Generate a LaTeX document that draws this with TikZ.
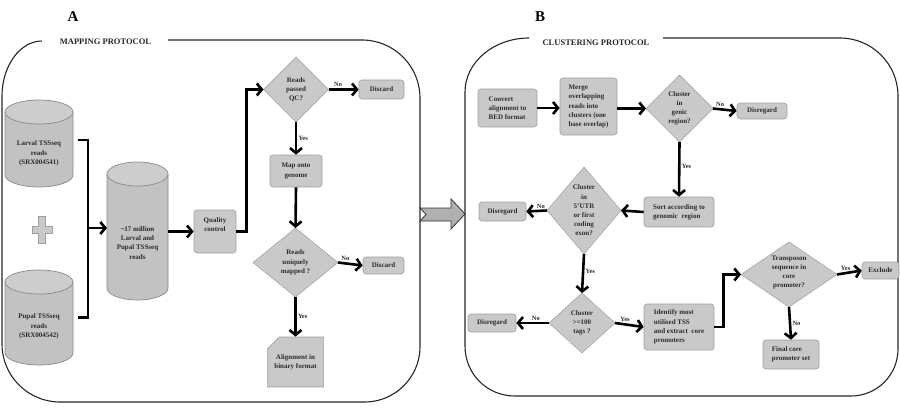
\documentclass[tikz,border=0pt]{standalone}
\usepackage{fontspec}
\setmainfont{Liberation Serif}
\usetikzlibrary{arrows.meta,shapes.geometric,shapes.misc}
\definecolor{boxfill}{HTML}{C9C9C9}
\definecolor{boxline}{HTML}{A0A0A0}
\definecolor{txtc}{HTML}{2B2B2B}
\definecolor{cylfill}{HTML}{C2C2C2}
\definecolor{cyltopc}{HTML}{CDCDCD}
\definecolor{cylline}{HTML}{8A8A8A}
\definecolor{bigarr}{HTML}{B0B0B0}
\newcommand\mycyl[5]{%
  \draw[draw=cylline, fill=cylfill, line width=0.7pt] (#1-#4,#2) -- (#1-#4,#3)
    arc[start angle=180,end angle=360,x radius=#4pt,y radius=#5pt] -- (#1+#4,#2) -- cycle;
  \draw[draw=cylline, fill=cyltopc, line width=0.7pt] (#1,#2) ellipse[x radius=#4pt, y radius=#5pt];}
\begin{document}
\begin{tikzpicture}[x=1pt,y=-1pt,
  txt/.style={font=\bfseries\fontsize{7}{9.2}\selectfont, text=txtc, align=center, inner sep=0pt},
  box/.style={draw=boxline, fill=boxfill, rounded corners=3pt, line width=0.6pt, inner sep=1pt,
    font=\bfseries\fontsize{7}{9.2}\selectfont, text=txtc},
  doc/.style={chamfered rectangle, chamfered rectangle corners=north west, chamfered rectangle xsep=6pt,
    chamfered rectangle ysep=6pt, draw=boxline, fill=boxfill, line width=0.6pt, inner sep=1pt,
    font=\bfseries\fontsize{7}{9.2}\selectfont, text=txtc},
  dia/.style={diamond, draw=boxline, fill=boxfill, line width=0.5pt, inner sep=0pt, outer sep=0pt},
  cylnode/.style={inner sep=0pt, outer sep=0pt},
  arr/.style={line width=2.6pt, line join=miter, -{Straight Barb[length=5pt,width=12pt]}},
  conn/.style={line width=2.6pt, line join=miter},
  lbl/.style={font=\bfseries\fontsize{6.5}{7}\selectfont, text=txtc, inner sep=1.2pt},
  ttl/.style={font=\bfseries\fontsize{8.5}{9}\selectfont, text=black!85, inner sep=0pt},
  big/.style={font=\bfseries\fontsize{15}{15}\selectfont, inner sep=0pt},
  frame/.style={line width=1.1pt, draw=black!85},
]
\useasboundingbox (0,0) rectangle (900,420);

% ---------------- Panel A frame ----------------
\node[big] (A) at (73,17) {A};
\node[ttl] (tA) at (105.5,42) {MAPPING PROTOCOL};
\draw[frame] (42,41) .. controls (20,41) and (2,66) .. (2,96) -- (2,344)
  .. controls (2,376) and (28,402) .. (60,402) -- (365,402)
  .. controls (395,402) and (420,377) .. (420,347) -- (420,98)
  .. controls (420,66) and (394,40) .. (362,40) -- (168,40);

% ---------------- Panel B frame ----------------
\node[big] (B) at (540,17) {B};
\node[ttl] (tB) at (596,43) {CLUSTERING PROTOCOL};
\draw[frame] (529,38) .. controls (494,38) and (465,62) .. (465,92) -- (465,346)
  .. controls (465,374) and (487,396) .. (515,396) -- (851,396)
  .. controls (877,396) and (898,375) .. (898,349) -- (898,96)
  .. controls (898,64) and (872,38) .. (840,38) -- (663,38);

% big arrow between panels
\draw[fill=bigarr, draw=black!80, line width=0.8pt, line join=miter]
  (420,208) -- (451,208) -- (451,199) -- (465,214) -- (451,229) -- (451,221)
  -- (420,221) -- (426,214.5) -- cycle;

% ---------------- Cylinders ----------------
\mycyl{39}{112}{175}{34}{12}
\node[cylnode, minimum width=68pt, minimum height=87pt,
  label={[txt,yshift=-10pt]center:{Larval TSSseq\\reads\\(SRX004541)}}] (cyl1) at (39,143.5) {};
\mycyl{39}{282}{353}{34}{12}
\node[cylnode, minimum width=68pt, minimum height=95pt,
  label={[txt,yshift=-9pt]center:{Pupal TSSseq\\reads\\(SRX004542)}}] (cyl2) at (39,317.5) {};
\mycyl{137.5}{174}{288}{30.5}{12}
\node[cylnode, minimum width=61pt, minimum height=138pt,
  label={[txt,yshift=-12pt]center:{\textasciitilde17 million\\Larval and\\Pupal TSSseq\\reads}}] (cyl3) at (137.5,231) {};

% plus sign
\draw[fill=boxfill, draw=boxline, line width=0.6pt]
  (38.5,216) -- (45.5,216) -- (45.5,226) -- (52,226) -- (52,233) -- (45.5,233) -- (45.5,243)
  -- (38.5,243) -- (38.5,233) -- (32,233) -- (32,226) -- (38.5,226) -- cycle;

% ---------------- Panel A nodes ----------------
\node[box, minimum width=42pt, minimum height=43pt,
  label={[txt,yshift=7pt]center:{Quality\\control}}] (qc) at (215,231.5) {};
\node[dia, minimum width=65pt, minimum height=65pt,
  label={[txt]center:{Reads\\passed\\QC?}}] (d1) at (296,89.5) {};
\node[box, minimum width=45pt, minimum height=19pt] (disc1) at (381.5,89.5) {Discard};
\node[box, minimum width=52pt, minimum height=32pt, align=center] (map) at (296,171) {Map onto\\genome};
\node[dia, minimum width=85pt, minimum height=69pt,
  label={[txt]center:{Reads\\uniquely\\mapped ?}}] (d2) at (295.5,262.5) {};
\node[box, minimum width=41pt, minimum height=17pt] (disc2) at (383.5,265.5) {Discard};
\node[doc, minimum width=55pt, minimum height=50pt, align=center] (aln) at (295.5,362) {Alignment in\\binary format};

% connectors A
\coordinate (brk) at (88,228);
\draw[conn] ([xshift=5pt]cyl1.east |- 0,140) -| (brk) |- ([xshift=5pt]cyl2.east);
\draw[arr] (brk) -- (cyl3.west |- brk);
\draw[arr] (cyl3.east |- qc.west) -- (qc.west);
\draw[arr] (qc.east) -- ++(10,0) |- (d1.west);
\draw[arr] (d1.east) -- node[lbl, above, pos=0.32] {No} (disc1.west);
\draw[arr] (d1.south) -- node[lbl, right, pos=0.5] {Yes} (map.north);
\draw[arr] (map.south) -- (d2.north);
\draw[arr] (d2.east) -- node[lbl, above, pos=0.3] {No} (disc2.west);
\draw[arr] (d2.south) -- node[lbl, right, pos=0.5] {Yes} (aln.north);

% ---------------- Panel B nodes ----------------
\node[box, minimum width=59pt, minimum height=38pt, align=left] (conv) at (507.5,108) {Convert\\alignment to\\BED format};
\node[box, minimum width=57pt, minimum height=57pt, align=left] (merge) at (588.5,106.5) {Merge\\overlapping\\reads into\\clusters (one\\base overlap)};
\node[dia, minimum width=67pt, minimum height=67pt,
  label={[txt]center:{Cluster\\in\\genic\\region?}}] (d3) at (679.5,108.5) {};
\node[box, minimum width=50pt, minimum height=16pt] (dis1) at (762,111) {Disregard};
\node[box, minimum width=70pt, minimum height=30pt, align=left] (sort) at (679,212) {Sort according to\\genomic\ \ region};
\node[dia, minimum width=74pt, minimum height=87pt,
  label={[txt]center:{Cluster\\in\\5'UTR\\or first\\coding\\exon?}}] (d4) at (584,210.5) {};
\node[box, minimum width=47pt, minimum height=19pt] (dis2) at (502.5,211.5) {Disregard};
\node[dia, minimum width=66pt, minimum height=60pt,
  label={[txt]center:{Cluster\\>=100\\tags ?}}] (d5) at (582,323) {};
\node[box, minimum width=48pt, minimum height=18pt] (dis3) at (492,323) {Disregard};
\node[box, minimum width=70pt, minimum height=46pt, align=left] (ident) at (679,327) {Identify most\\utilised TSS\\and extract\ \ core\\promoters};
\node[dia, minimum width=96pt, minimum height=65pt,
  label={[txt,yshift=2pt]center:{Transposon\\sequence in\\core\\promoter?}}] (d6) at (789,274.5) {};
\node[box, minimum width=37pt, minimum height=17pt] (excl) at (880.5,270.5) {Exclude};
\node[box, minimum width=56pt, minimum height=29pt, align=left] (final) at (791,354.5) {Final core\\promoter set};

% connectors B
\draw[arr] (conv.east) -- (merge.west |- conv.east);
\draw[arr] (merge.east |- d3.west) -- (d3.west);
\draw[arr] (d3.east) -- node[lbl, above, pos=0.3] {No} (dis1.west);
\draw[arr] (d3.south) -- node[lbl, right, pos=0.45] {Yes} (sort.north);
\draw[arr] (sort.west) -- (d4.east);
\draw[arr] (d4.west) -- node[lbl, above, pos=0.3] {No} (dis2.east);
\draw[arr] (d4.south) -- node[lbl, right, pos=0.45] {Yes} (d5.north);
\draw[arr] (d5.west) -- node[lbl, above, pos=0.4] {No} (dis3.east);
\draw[arr] (d5.east) -- node[lbl, above, pos=0.35] {Yes} (ident.west);
\draw[arr] (ident.east) -- ++(9,0) |- (d6.west);
\draw[arr] (d6.east) -- node[lbl, above, pos=0.35] {Yes} (excl.west);
\draw[arr] (d6.south) -- node[lbl, right, pos=0.5] {No} (final.north);
\end{tikzpicture}
\end{document}
